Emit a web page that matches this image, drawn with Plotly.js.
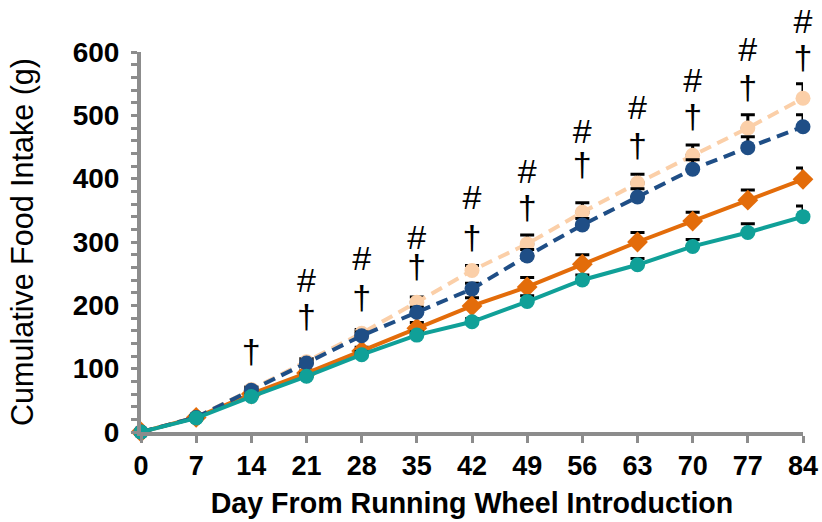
<!DOCTYPE html>
<html>
<head>
<meta charset="utf-8">
<script src="https://cdn.plot.ly/plotly-3.0.1.min.js"></script>
<style>html,body{margin:0;padding:0;background:#fff;}#chart{width:822px;height:522px;}</style>
</head>
<body>
<div id="chart"></div>
<script>
// ---- data ----
const days = [0, 7, 14, 21, 28, 35, 42, 49, 56, 63, 70, 77, 84];

const peach  = [0, 23, 67, 111, 156, 205, 255, 297, 347, 393, 437, 480, 527];
const peachErr = [0, 2, 4, 5, 6, 8, 8, 14, 15, 14, 16, 21, 23];

const blue   = [0, 23, 66, 109, 152, 189, 226, 278, 327, 371, 415, 449, 482];
const blueErr = [0, 2, 4, 5, 6, 8, 9, 10, 10, 13, 15, 17, 19];

const orange = [0, 23, 60, 93, 128, 164, 199, 229, 265, 300, 333, 366, 399];
const orangeErr = [0, 2, 3, 4, 6, 9, 13, 15, 15, 15, 14, 16, 18];

const teal   = [0, 22, 56, 88, 122, 153, 174, 206, 240, 264, 293, 315, 340];
const tealErr = [0, 2, 3, 4, 5, 5, 5, 9, 8, 10, 11, 14, 17];

// significance markers (label anchor values in data units)
const daggerDays = [14, 21, 28, 35, 42, 49, 56, 63, 70, 77, 84];
const daggerY    = [122, 177, 207, 256, 303, 349, 417, 448, 493, 540, 586];
const hashDays   = [21, 28, 35, 42, 49, 56, 63, 70, 77, 84];
const hashY      = [235, 270, 303, 366, 406, 469, 507, 551, 600, 644];

const xTicks = days;
const yTicks = [0, 100, 200, 300, 400, 500, 600];
const yMax = 600;

const FONT = 'Liberation Sans, Arial, sans-serif';

// ---- geometry ----
const W = 822, H = 522, mL = 141, mR = 19, mB = 90, mT = 0;
const plotH = H - mB - mT;           // full height of the text layer
const mainH = 380;                   // height of the 0..600 axis
const mainTop = mainH / plotH;       // domain fraction of main axis
const overlayMax = yMax / mainTop;   // same scale, extended upward

// ---- traces ----
function series(y, err, color, symbol, dash, msize) {
  return {
    x: days, y: y, type: 'scatter', mode: 'lines+markers',
    line: {color: color, width: 4, dash: dash},
    marker: {color: color, size: msize, symbol: symbol},
    error_y: {type: 'data', array: err, arrayminus: days.map(() => 0), symmetric: false,
              color: '#000', thickness: 3, width: 7},
    cliponaxis: false, showlegend: false, hoverinfo: 'skip'
  };
}
function marks(xs, ys, ch) {
  return {
    x: xs, y: ys, xaxis: 'x', yaxis: 'y2', type: 'scatter', mode: 'text',
    text: xs.map(() => ch), textposition: 'middle center',
    textfont: {family: FONT, size: 34, color: '#000'},
    cliponaxis: false, showlegend: false, hoverinfo: 'skip'
  };
}
const traces = [
  series(peach, peachErr, '#FBCFA8', 'circle', '12px,7px', 15),
  series(orange, orangeErr, '#E36C0A', 'diamond', 'solid', 16),
  series(blue, blueErr, '#1F4E86', 'circle', '12px,7px', 15),
  series(teal, tealErr, '#10A098', 'circle', 'solid', 15),
  marks(daggerDays, daggerY, '†'),
  marks(hashDays, hashY, '#')
];

const layout = {
  width: W, height: H,
  margin: {l: mL, r: mR, t: mT, b: mB},
  paper_bgcolor: '#fff', plot_bgcolor: 'rgba(0,0,0,0)',
  font: {family: FONT, color: '#000'},
  xaxis: {
    anchor: 'y',
    range: [0, 84], tickvals: xTicks, ticktext: xTicks.map(String),
    showgrid: false, zeroline: false,
    showline: true, linecolor: '#8C8C8C', linewidth: 4,
    ticks: 'outside', ticklen: 7, tickwidth: 3, tickcolor: '#8C8C8C',
    tickfont: {size: 27, family: FONT, weight: 'bold', color: '#000'},
    title: {text: '<b>Day From Running Wheel Introduction</b>', standoff: 14,
            font: {size: 28.6, family: FONT, color: '#000'}}
  },
  yaxis: {
    domain: [0, mainTop],
    range: [0, yMax], tickvals: yTicks, ticktext: yTicks.map(String),
    showgrid: false, zeroline: false,
    showline: true, linecolor: '#8C8C8C', linewidth: 4,
    ticks: 'outside', ticklen: 6, tickwidth: 3, tickcolor: '#8C8C8C',
    ticklabelstandoff: 6,
    minor: {dtick: 20, ticks: 'outside', ticklen: 6, tickwidth: 3, tickcolor: '#8C8C8C', showgrid: false},
    tickfont: {size: 28, family: FONT, weight: 'bold', color: '#000'},
    title: {text: 'Cumulative Food Intake (g)', standoff: 31,
            font: {size: 30.5, family: FONT, color: '#000'}}
  },
  yaxis2: {
    domain: [0, 1], anchor: 'x', range: [0, overlayMax],
    visible: false, showgrid: false, zeroline: false, showline: false, fixedrange: true
  }
};

Plotly.newPlot('chart', traces, layout, {displayModeBar: false, staticPlot: true});
</script>
</body>
</html>
